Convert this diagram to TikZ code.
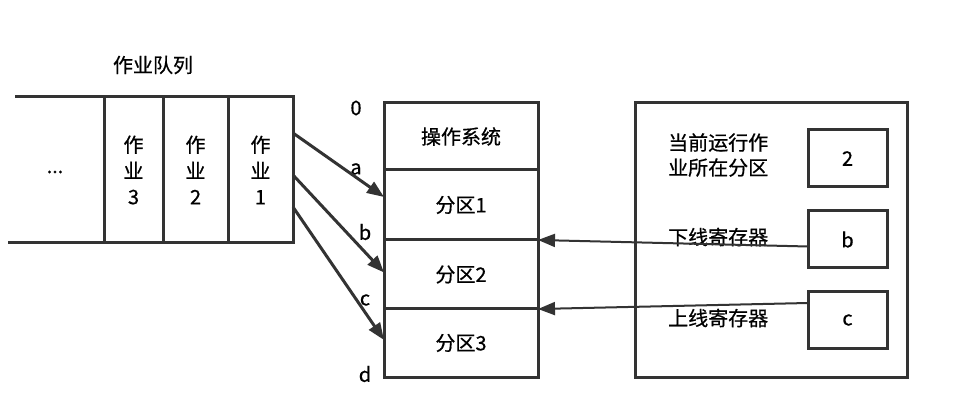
\documentclass[tikz,border=0pt]{standalone}
\usepackage{fontspec}
\setmainfont{Noto Sans CJK SC}[FakeBold=0.6]
\usepackage{xcolor}
\usetikzlibrary{arrows.meta, positioning, calc}

\definecolor{edge}{HTML}{333333}

\begin{document}
\begin{tikzpicture}[x=1pt, y=-1pt,
    cell/.style={rectangle, draw=edge, line width=3pt, inner sep=0pt, outer sep=0pt,
                 minimum height=146pt, align=center, font=\fontsize{20}{26}\selectfont},
    part/.style={rectangle, draw=edge, line width=3pt, inner sep=0pt, outer sep=0pt,
                 minimum width=154pt, font=\fontsize{20}{24}\selectfont},
    reg/.style={rectangle, draw=edge, line width=3pt, inner sep=0pt, outer sep=0pt,
                minimum width=79pt, minimum height=57pt, font=\fontsize{20}{24}\selectfont},
    lbl/.style={inner sep=0pt, font=\fontsize{20}{25}\selectfont, align=left},
    feed/.style={draw=edge, line width=3pt, -{Triangle[length=17pt,width=13pt]}},
    bound/.style={draw=edge, line width=2pt, -{Triangle[length=17pt,width=13pt]}}
]
\useasboundingbox (0,0) rectangle (955,411);

% job queue
\node[lbl] (qtitle) at (153,65) {作业队列};
\node[cell, minimum width=59pt] (j3) at (133.5,170) {作\\业\\3};
\node[cell, minimum width=65pt] (j2) at (195.5,170) {作\\业\\2};
\node[cell, minimum width=65pt] (j1) at (260.5,170) {作\\业\\1};
\node[lbl] (more) at (55,172) {...};
\coordinate (qtop) at (15,97);
\coordinate (qbot) at (8,243);
\draw[edge, line width=3pt] (qtop) -- (j3.north west);
\draw[edge, line width=3pt] (qbot) -- (j3.south west);

% main memory
\node[part, minimum height=67pt] (os) at (461,136.5) {操作系统};
\node[part, minimum height=70pt] (p1) at (461,205) {分区1};
\node[part, minimum height=69pt] (p2) at (461,274.5) {分区2};
\node[part, minimum height=68pt] (p3) at (461,343) {分区3};
\node[lbl] (m0) at (356,108) {0};
\node[lbl] (ma) at (356,169) {a};
\node[lbl] (mb) at (365,232) {b};
\node[lbl] (mc) at (365,300) {c};
\node[lbl] (md) at (365,374) {d};

% registers
\node[rectangle, draw=edge, line width=3pt, minimum width=272pt, minimum height=274pt,
      inner sep=0pt] (cpu) at (771,240) {};
\node[reg] (r2) at (847.5,158.5) {2};
\node[reg] (rb) at (847.5,239.5) {b};
\node[reg] (rc) at (847.5,320) {c};
\node[lbl, anchor=west] (cur) at (668,155) {当前运行作\\业所在分区};
\node[lbl, anchor=west] (low) at (668,237) {下线寄存器};
\node[lbl, anchor=west] (up) at (668,318) {上线寄存器};

% loading jobs into partitions
\draw[feed] ([yshift=37pt]j1.east) -- ([yshift=8pt]p1.west);
\draw[feed] ([yshift=-5pt]j1.east) -- ([yshift=2pt]p2.west);
\draw[feed] ([yshift=-37pt]j1.east) -- ([yshift=3pt]p3.west);

% bounds of the running partition
\draw[bound] ([yshift=-7pt]rb.west) -- (p2.north east);
\draw[bound] ([yshift=17pt]rc.west) -- (p3.north east);
\end{tikzpicture}
\end{document}
